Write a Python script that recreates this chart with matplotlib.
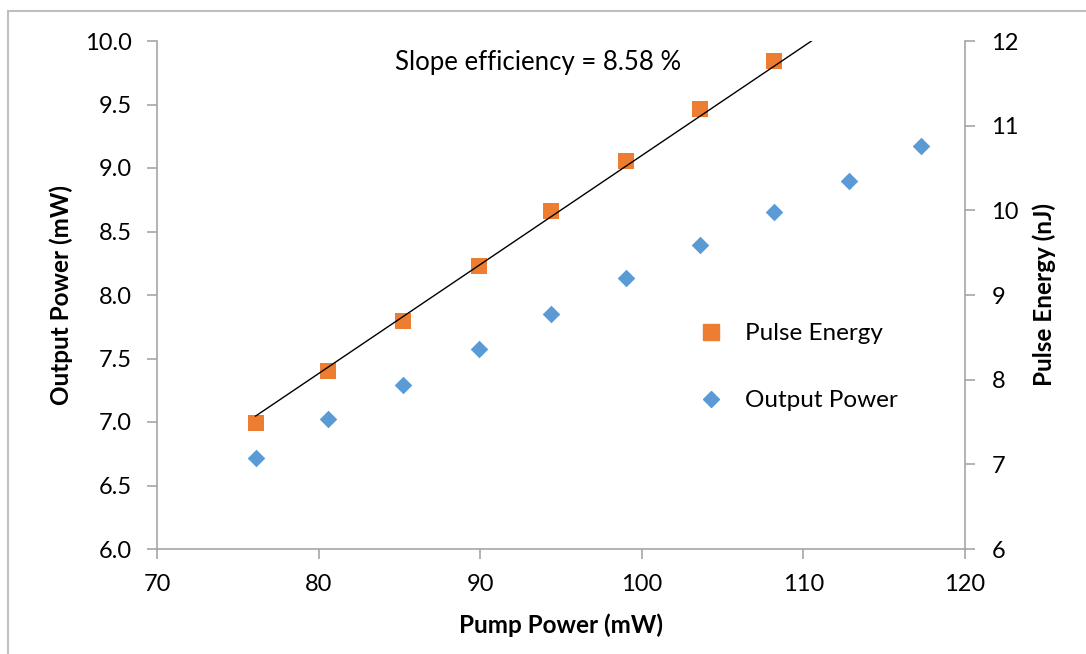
import matplotlib
matplotlib.use("Agg")
import matplotlib.pyplot as plt
from matplotlib.lines import Line2D
from matplotlib.patches import Rectangle

plt.rcParams['font.family'] = ['Lato', 'DejaVu Sans']

# Data
pump_power = [76.1, 80.6, 85.2, 89.9, 94.4, 99.0, 103.6, 108.2, 112.8, 117.3]
output_power = [6.72, 7.02, 7.29, 7.575, 7.85, 8.13, 8.39, 8.65, 8.90, 9.17]
pump_power_pe = [76.1, 80.6, 85.2, 89.9, 94.4, 99.0, 103.6, 108.2]
pulse_energy = [7.49, 8.10, 8.69, 9.34, 9.99, 10.58, 11.20, 11.76]
fit_x = [76.1, 110.5]
fit_y = [7.57, 12.0]

left_ticks = [6.0, 6.5, 7.0, 7.5, 8.0, 8.5, 9.0, 9.5, 10.0]
right_ticks = [6, 7, 8, 9, 10, 11, 12]
x_ticks = [70, 80, 90, 100, 110, 120]

orange = '#ED7D31'
blue = '#5B9BD5'
gray = '#A6A6A6'

fig = plt.figure(figsize=(10.86, 6.54), dpi=100)
fig.patches.append(Rectangle((8 / 1086, -0.1), 1.2, 1.1 - 11 / 654, transform=fig.transFigure,
                             fill=False, edgecolor='#BFBFBF', linewidth=1.5))

ax = fig.add_axes([157 / 1086, 1 - 549 / 654, 808 / 1086, 508 / 654])
ax2 = ax.twinx()

ax.scatter(pump_power, output_power, marker='D', s=80, color=blue, zorder=3, linewidths=0)
ax2.scatter(pump_power_pe, pulse_energy, marker='s', s=130, color=orange, zorder=3, linewidths=0)
ax2.plot(fit_x, fit_y, color='black', linewidth=1.0, zorder=4)

ax.set_xlim(70, 120)
ax.set_ylim(6.0, 10.0)
ax2.set_ylim(6, 12)
ax.set_xticks(x_ticks)
ax.set_yticks(left_ticks)
ax.set_yticklabels([f'{v:.1f}' for v in left_ticks])
ax2.set_yticks(right_ticks)

for a in (ax, ax2):
    a.spines['top'].set_visible(False)
    for s in ('left', 'right', 'bottom'):
        a.spines[s].set_color(gray)
        a.spines[s].set_linewidth(1.2)
ax.spines['right'].set_visible(False)
ax2.spines['left'].set_visible(False)
ax2.spines['bottom'].set_visible(False)

ax.tick_params(axis='y', direction='out', length=7, width=1.2, color=gray,
               labelsize=17, pad=11)
ax.tick_params(axis='x', direction='out', length=7, width=1.2, color=gray,
               labelsize=17, pad=11)
ax2.tick_params(axis='y', direction='out', length=7, width=1.2, color=gray,
                labelsize=17, pad=12)

ax.set_xlabel('Pump Power (mW)', fontsize=17.5, fontweight='bold', labelpad=13)
ax.set_ylabel('Output Power (mW)', fontsize=17.5, fontweight='bold', labelpad=9)
ax2.set_ylabel('Pulse Energy (nJ)', fontsize=17.5, fontweight='bold', labelpad=10)

ax.text(0.471, 0.957, 'Slope efficiency = 8.58 %', transform=ax.transAxes,
        fontsize=18.5, ha='center', va='center')

handles = [Line2D([], [], marker='s', color=orange, linestyle='None', markersize=11),
           Line2D([], [], marker='D', color=blue, linestyle='None', markersize=8)]
ax.legend(handles, ['Pulse Energy', 'Output Power'], loc='center left',
          bbox_to_anchor=(0.643, 0.358), frameon=False, fontsize=17.5,
          labelspacing=1.9, handlelength=1.0, handletextpad=0.9)

fig.savefig('out.png', dpi=100)
